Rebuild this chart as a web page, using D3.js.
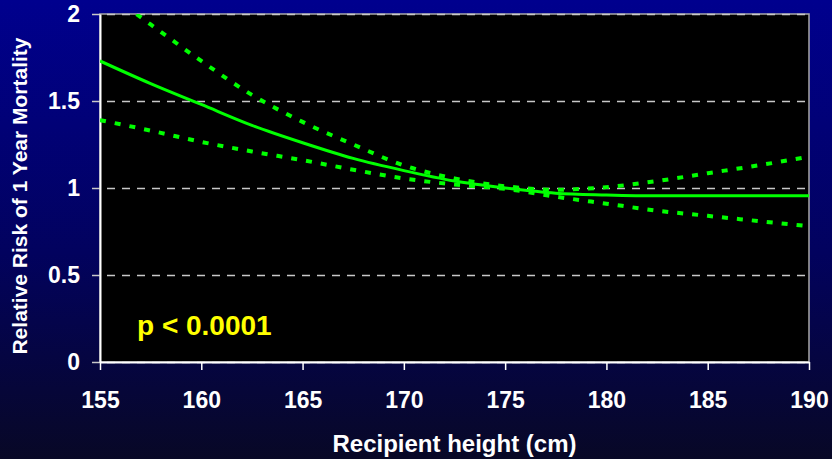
<!DOCTYPE html>
<html>
<head>
<meta charset="utf-8">
<script src="https://cdn.jsdelivr.net/npm/d3@7"></script>
<style>
  body { margin: 0; background: #000; }
  svg { display: block; font-family: "Liberation Sans", Arial, sans-serif; font-weight: bold; }
</style>
</head>
<body>
<svg id="chart" width="832" height="459"></svg>
<script>
// values
const heights = [155, 157.5, 160, 162.5, 165, 167.5, 170, 172.5, 175, 177.5, 180, 182.5, 185, 187.5, 190];
const riskMid = [1.73, 1.60, 1.48, 1.36, 1.26, 1.17, 1.10, 1.04, 1.00, 0.97, 0.96, 0.955, 0.955, 0.955, 0.955];
const riskUpper = [2.15, 1.94, 1.73, 1.535, 1.38, 1.25, 1.13, 1.055, 1.01, 0.99, 1.005, 1.04, 1.085, 1.13, 1.18];
const riskLower = [1.39, 1.33, 1.265, 1.21, 1.16, 1.105, 1.055, 1.02, 0.995, 0.95, 0.91, 0.87, 0.84, 0.81, 0.78];
const xTicks = [155, 160, 165, 170, 175, 180, 185, 190];
const yTicks = [0, 0.5, 1, 1.5, 2];

const svg = d3.select("#chart"),
    W = +svg.attr("width"),
    H = +svg.attr("height"),
    margin = {top: 14, right: 23, bottom: 97, left: 100},
    x0 = margin.left, x1 = W - margin.right,
    y0 = H - margin.bottom, y1 = margin.top;

let x = d3.scaleLinear().domain([155, 190]).range([x0, x1]),
    y = d3.scaleLinear().domain([0, 2]).range([y0, y1]);

// slide background
let defs = svg.append("defs");
let grad = defs.append("linearGradient").attr("id", "bg").attr("x1", 0).attr("y1", 0).attr("x2", 0).attr("y2", 1);
grad.append("stop").attr("offset", "0%").attr("stop-color", "#00008e");
grad.append("stop").attr("offset", "55%").attr("stop-color", "#02025e");
grad.append("stop").attr("offset", "100%").attr("stop-color", "#080826");
svg.append("rect").attr("width", W).attr("height", H).attr("fill", "url(#bg)");

defs.append("clipPath").attr("id", "plotClip")
  .append("rect").attr("x", x0).attr("y", y1).attr("width", x1 - x0).attr("height", y0 - y1);

// plot area
svg.append("rect")
    .attr("x", x0).attr("y", y1)
    .attr("width", x1 - x0).attr("height", y0 - y1)
    .attr("fill", "#000")
    .attr("stroke", "#a8a8a8")
    .attr("stroke-width", 1.5);

// dashed gridlines (they start at the outer tick position)
let grid = svg.append("g")
    .attr("transform", "translate(" + (x0 - 8) + ",0)")
    .call(d3.axisLeft(y).tickValues(yTicks).tickSize(-(x1 - x0 + 8)).tickFormat(""));
grid.select(".domain").remove();
grid.selectAll("line")
    .attr("stroke", "#c8c8c8")
    .attr("stroke-width", 1.5)
    .attr("stroke-dasharray", "8,7");

// y axis
let yAxis = svg.append("g")
    .attr("transform", "translate(" + x0 + ",0)")
    .call(d3.axisLeft(y).tickValues(yTicks).tickSize(0).tickPadding(20).tickFormat(d => String(d)));
yAxis.select(".domain").attr("stroke", "#fff").attr("stroke-width", 2);
yAxis.selectAll("text").attr("fill", "#fff").style("font-size", "23px").style("font-weight", "bold")
    .style("font-family", "'Liberation Sans', Arial, sans-serif");

// x axis
let xAxis = svg.append("g")
    .attr("transform", "translate(0," + y0 + ")")
    .call(d3.axisBottom(x).tickValues(xTicks).tickSizeInner(8).tickSizeOuter(0).tickPadding(22));
xAxis.select(".domain").attr("stroke", "#fff").attr("stroke-width", 2);
xAxis.selectAll("line").attr("stroke", "#fff").attr("stroke-width", 1.5);
xAxis.selectAll("text").attr("fill", "#fff").style("font-size", "23px").style("font-weight", "bold")
    .style("font-family", "'Liberation Sans', Arial, sans-serif");

// curves
let line = d3.line()
    .x((d, i) => x(heights[i]))
    .y(d => y(d))
    .curve(d3.curveMonotoneX);

let curves = svg.append("g").attr("clip-path", "url(#plotClip)");
curves.append("path").datum(riskUpper)
    .attr("d", line).attr("fill", "none")
    .attr("stroke", "#00ff00").attr("stroke-width", 4).attr("stroke-dasharray", "6,9");
curves.append("path").datum(riskLower)
    .attr("d", line).attr("fill", "none")
    .attr("stroke", "#00ff00").attr("stroke-width", 4).attr("stroke-dasharray", "6,9");
curves.append("path").datum(riskMid)
    .attr("d", line).attr("fill", "none")
    .attr("stroke", "#00ff00").attr("stroke-width", 3);

// annotation
svg.append("text")
    .attr("x", 137).attr("y", 335)
    .attr("fill", "#ffff00")
    .style("font-size", "28px")
    .text("p < 0.0001");

// axis titles
svg.append("text")
    .attr("x", (x0 + x1) / 2).attr("y", 452)
    .attr("text-anchor", "middle")
    .attr("fill", "#fff")
    .style("font-size", "24px")
    .text("Recipient height (cm)");

svg.append("text")
    .attr("transform", "translate(27,196) rotate(-90)")
    .attr("text-anchor", "middle")
    .attr("fill", "#fff")
    .style("font-size", "21px")
    .text("Relative Risk of 1 Year Mortality");
</script>
</body>
</html>
